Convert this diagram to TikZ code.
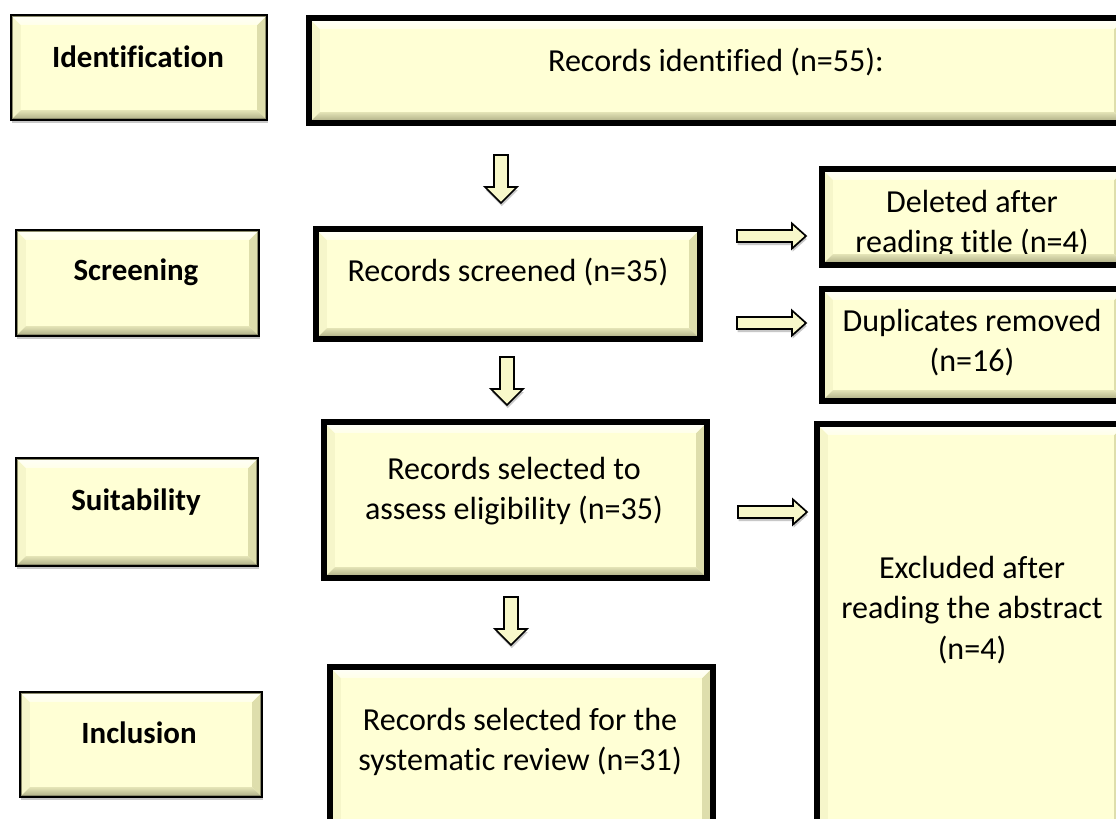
\documentclass[tikz,border=0pt]{standalone}
\usepackage{fontspec}
\setmainfont{Carlito}[Ligatures={NoCommon,NoRare,NoContextual}]
\usetikzlibrary{calc,shadows,fit}

\definecolor{boxfill}{RGB}{255,255,213}
\definecolor{bvtop}{RGB}{255,255,246}
\definecolor{bvleft}{RGB}{246,246,202}
\definecolor{bvright}{RGB}{222,222,172}
\definecolor{bvbotA}{RGB}{228,228,182}
\definecolor{bvbotB}{RGB}{178,178,138}
\definecolor{frameline}{RGB}{140,140,108}
\definecolor{arrowfill}{RGB}{248,248,202}

\def\bevw{6pt}
\def\boxbw{2pt}

\tikzset{
  bw/.style={line width=#1, /utils/exec={\def\boxbw{#1}}},
  softshadow/.style={drop shadow={shadow xshift=0.5pt, shadow yshift=-2.2pt,
      opacity=.3, fill=black!70}},
  bevelbox/.style={draw=black, fill=boxfill, inner sep=0pt, softshadow,
    path picture={
      \coordinate (bbA) at (path picture bounding box.north west);
      \coordinate (bbB) at (path picture bounding box.south east);
      \coordinate (bbC) at (path picture bounding box.north east);
      \coordinate (bbD) at (path picture bounding box.south west);
      % outer corners of the bevel (inner edge of the border)
      \coordinate (o1) at ($(bbA)+(0.5*\boxbw,-0.5*\boxbw)$);
      \coordinate (o2) at ($(bbC)+(-0.5*\boxbw,-0.5*\boxbw)$);
      \coordinate (o3) at ($(bbB)+(-0.5*\boxbw,0.5*\boxbw)$);
      \coordinate (o4) at ($(bbD)+(0.5*\boxbw,0.5*\boxbw)$);
      % inner corners of the bevel
      \coordinate (i1) at ($(o1)+(\bevw,-\bevw)$);
      \coordinate (i2) at ($(o2)+(-\bevw,-\bevw)$);
      \coordinate (i3) at ($(o3)+(-\bevw,\bevw)$);
      \coordinate (i4) at ($(o4)+(\bevw,\bevw)$);
      \fill[bvleft] (o1) -- (i1) -- (i4) -- (o4) -- cycle;
      \fill[bvright] (o2) -- (i2) -- (i3) -- (o3) -- cycle;
      \shade[top color=bvbotA, bottom color=bvbotB] (o4) -- (i4) -- (i3) -- (o3) -- cycle;
      \shade[top color=bvtop, bottom color=bvtop!60!boxfill] (o1) -- (o2) -- (i2) -- (i1) -- cycle;
      \draw[frameline, line width=0.7pt] (o1) rectangle (o3);
      \draw[black, line width=\boxbw] (bbA) rectangle (bbB);
    }},
  thinbox/.style={bevelbox, bw=1.9pt},
  thickbox/.style={bevelbox, bw=3.6pt},
  txt/.style={font=\fontsize{22.8}{28.5}\selectfont, align=center, inner sep=0pt},
  lbl/.style={font=\bfseries\fontsize{22}{26}\selectfont, inner sep=0pt},
  arrowstyle/.style={draw=black, fill=arrowfill, line width=1.2pt, line join=miter, softshadow},
  pics/downarr/.style={code={
    \draw[arrowstyle] (-7,0) -- (7,0) -- (7,32) -- (16,32) -- (0,48) -- (-16,32) -- (-7,32) -- cycle;}},
  pics/rightarr/.style={code={
    \draw[arrowstyle] (0,-6) -- (55,-6) -- (55,-12.5) -- (69,0) -- (55,12.5) -- (55,6) -- (0,6) -- cycle;}}
}

\begin{document}
\begin{tikzpicture}[x=0.025cm, y=-0.025cm]
\useasboundingbox (0,0) rectangle (1116,818);
\clip (0,0) rectangle (1116,818);
\fill[white] (0,0) rectangle (1116,818);

% stage labels on the left
\node[thinbox, fit={(11,15) (267,120)}] (idL) {};
\node[thinbox, fit={(16,230) (259,336)}] (scL) {};
\node[thinbox, fit={(16,458) (258,566)}] (suL) {};
\node[thinbox, fit={(20,692) (262,797)}] (inL) {};
\node[lbl] (idLt) at (138,57) {Identification};
\node[lbl] (scLt) at (136,272) {Screening};
\node[lbl] (suLt) at (136,502) {Suitability};
\node[lbl] (inLt) at (139,733) {Inclusion};

% main flow
\node[thickbox, fit={(309,18) (1125,123)}] (idR) {};
\node[thickbox, fit={(316,229) (700,339)}] (scR) {};
\node[thickbox, fit={(324,422) (707,578)}] (suR) {};
\node[thickbox, fit={(330,667) (713,830)}] (inR) {};
\node[txt] (idRt) at (716,62) {Records identified (n=55):};
\node[txt] (scRt) at (508,272) {Records screened (n=35)};
\node[txt] (suRt) at (514,491) {Records selected to\\assess eligibility (n=35)};
\node[txt] (inRt) at (520,742) {Records selected for the\\systematic review (n=31)};

% excluded records
\node[thickbox, fit={(822,169) (1125,265)}] (del) {};
\node[thickbox, fit={(822,289) (1125,401)}] (dup) {};
\node[thickbox, fit={(817,424) (1125,830)}] (exc) {};
\begin{scope}
  \clip (820,167) rectangle (1125,253);
  \node[txt] (delt) at (972,224) {Deleted after\\reading title (n=4)};
\end{scope}
\node[txt] (dupt) at (972,343) {Duplicates removed\\(n=16)};
\node[txt] (exct) at (972,610) {Excluded after\\reading the abstract\\(n=4)};

% block arrows
\coordinate (d1) at (501,155);
\coordinate (d2) at (507,357);
\coordinate (d3) at (511,597);
\coordinate (r1) at (737,236);
\coordinate (r2) at (737,323);
\coordinate (r3) at (738,512);
\pic at (d1) {downarr};
\pic at (d2) {downarr};
\pic at (d3) {downarr};
\pic at (r1) {rightarr};
\pic at (r2) {rightarr};
\pic at (r3) {rightarr};
\end{tikzpicture}
\end{document}
